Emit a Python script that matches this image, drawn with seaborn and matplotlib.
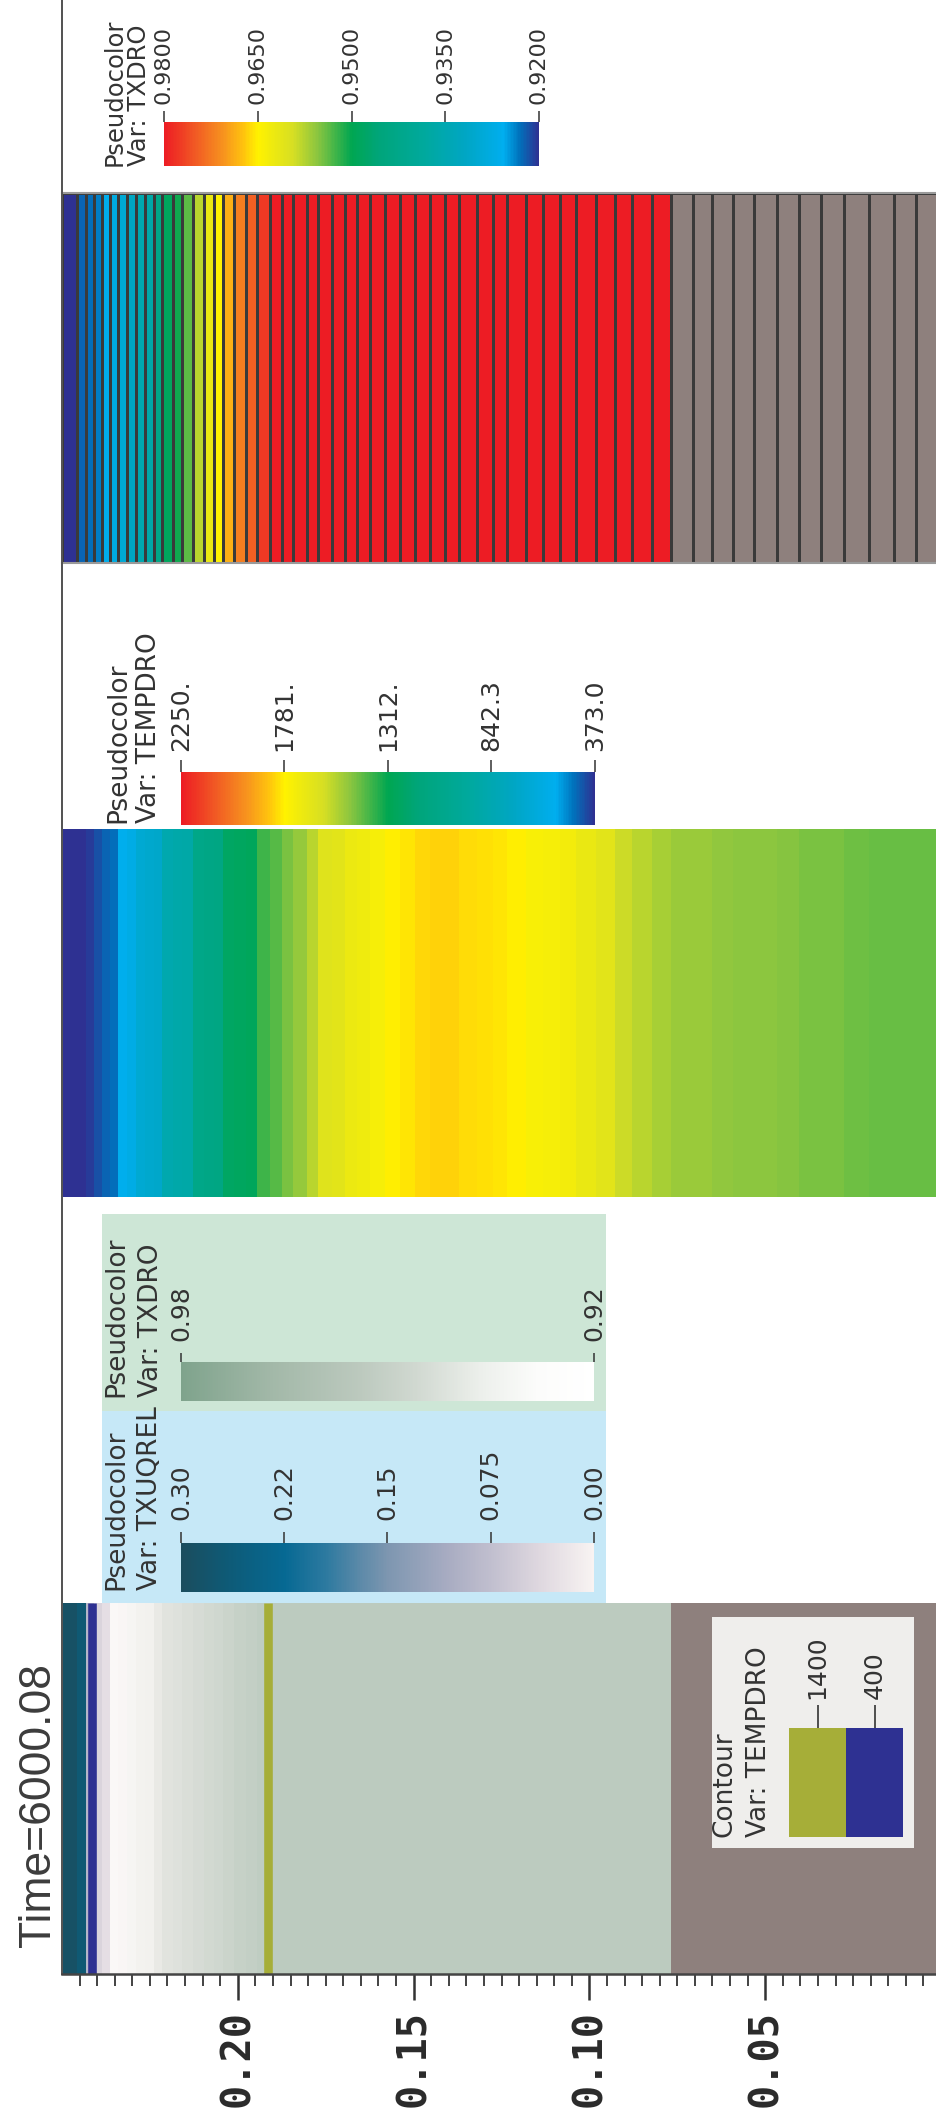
import numpy as np
import matplotlib
matplotlib.use("Agg")
import matplotlib.pyplot as plt
import seaborn as sns
from matplotlib.colors import LinearSegmentedColormap, Normalize, to_rgb
from matplotlib.cm import ScalarMappable
from matplotlib.patches import Rectangle
from matplotlib.ticker import FixedLocator

# ---------------- data ----------------
# radial mesh edges (fuel cells 0.25 -> 0.0769, then cladding cells -> 0.0)
radius_edges = [0.2500, 0.2458, 0.2433, 0.2409, 0.2387, 0.2364, 0.2340, 0.2316, 0.2290, 0.2264,
                0.2239, 0.2215, 0.2184, 0.2158, 0.2127, 0.2096, 0.2067, 0.2041, 0.2010, 0.1978,
                0.1946, 0.1909, 0.1875, 0.1842, 0.1804, 0.1771, 0.1733, 0.1695, 0.1662, 0.1624,
                0.1582, 0.1539, 0.1496, 0.1454, 0.1411, 0.1370, 0.1321, 0.1274, 0.1234, 0.1179,
                0.1131, 0.1084, 0.1037, 0.0980, 0.0926, 0.0878, 0.0823, 0.0769,
                0.0705, 0.0650, 0.0593, 0.0532, 0.0466, 0.0404, 0.0340, 0.0277, 0.0205, 0.0134,
                0.0070, 0.0000]

nan = float("nan")
# TXDRO per cell (cladding cells have no value -> grey)
txdro = [0.9200, 0.9224, 0.9230, 0.9236, 0.9260, 0.9278, 0.9296, 0.9320, 0.9356, 0.9368,
         0.9428, 0.9488, 0.9506, 0.9536, 0.9578, 0.9620, 0.9650, 0.9686, 0.9722, 0.9746,
         0.9776, 0.9800, 0.9800, 0.9800, 0.9800, 0.9800, 0.9800, 0.9800, 0.9800, 0.9800,
         0.9800, 0.9800, 0.9800, 0.9800, 0.9800, 0.9800, 0.9800, 0.9800, 0.9800, 0.9800,
         0.9800, 0.9800, 0.9800, 0.9800, 0.9800, 0.9800, 0.9800,
         nan, nan, nan, nan, nan, nan, nan, nan, nan, nan, nan, nan]

# TEMPDRO per cell
tempdro = [373, 378, 392, 420, 448, 465, 561, 600, 680, 700,
           715, 860, 880, 900, 1080, 1100, 1120, 1250, 1265, 1280,
           1390, 1415, 1462, 1499, 1556, 1640, 1655, 1700, 1712, 1743,
           1781, 1800, 1822, 1828, 1826, 1815, 1805, 1800, 1781, 1750,
           1740, 1724, 1687, 1649, 1584, 1556, 1527,
           1509, 1505, 1490, 1486, 1484, 1480, 1465, 1460, 1446, 1443, 1442, 1440]

# TXUQREL per cell (zero outside the centre)
txuqrel = [0.29, 0.27, 0.09, 0.045, 0.03] + [0.0] * 54

# contour levels of TEMPDRO
contour_levels = [1400, 400]
contour_colors = ["#A6AE38", "#2E3192"]

# axis ticks
major_ticks = [0.20, 0.15, 0.10, 0.05]
major_labels = ["0.20", "0.15", "0.10", "0.05"]

# colour bar ticks / labels
txdro_ticks = [0.98, 0.965, 0.95, 0.935, 0.92]
txdro_labels = ["0.9800", "0.9650", "0.9500", "0.9350", "0.9200"]
temp_ticks = [2250, 1780.75, 1311.5, 842.25, 373]
temp_labels = ["2250.", "1781.", "1312.", "842.3", "373.0"]
uq_ticks = [0.30, 0.225, 0.15, 0.075, 0.0]
uq_labels = ["0.30", "0.22", "0.15", "0.075", "0.00"]
dro2_ticks = [0.98, 0.92]
dro2_labels = ["0.98", "0.92"]

time_label = "Time=6000.08"

# ---------------- style ----------------
sns.set_theme(style="white")
plt.rcParams["font.family"] = ["DejaVu Sans"]

W, H, DPI = 937, 2112, 100
fig = plt.figure(figsize=(W / DPI, H / DPI), dpi=DPI)
fig.patch.set_facecolor("white")


def frac(x0, y0, x1, y1):
    return [x0 / W, 1 - y1 / H, (x1 - x0) / W, (y1 - y0) / H]


def pt(px):
    return px * 72.0 / DPI


TXT = "#333333"

rainbow_stops = [(0.0, "#2E3192"), (0.05, "#0072BC"), (0.093, "#00AEEF"), (0.195, "#00A6C4"),
                 (0.306, "#00A99D"), (0.426, "#00A57A"), (0.5, "#00A651"), (0.593, "#8DC63F"),
                 (0.657, "#D7DF23"), (0.75, "#FFF200"), (0.79, "#FFC20E"), (0.843, "#F7931E"),
                 (0.917, "#F15A24"), (1.0, "#ED1C24")]
cmap_rainbow = LinearSegmentedColormap.from_list("visit_rainbow", rainbow_stops)
cmap_rainbow_a = cmap_rainbow.copy()
cmap_rainbow_a.set_bad("#8E807D")

uq_stops = [(0.0, "#F8F3F2"), (0.138, "#DDD6DE"), (0.252, "#C0BECE"), (0.353, "#A8ACC2"),
            (0.5, "#7D96B0"), (0.57, "#5A89A8"), (0.647, "#2E7AA0"), (0.75, "#066993"),
            (0.89, "#0E5A76"), (1.0, "#1B4D5E")]
cmap_uq = LinearSegmentedColormap.from_list("uq", uq_stops)

gray_stops = [(0.0, "#FFFFFF"), (0.133, "#FCFCFB"), (0.267, "#EDF0EC"), (0.433, "#D0D8D0"),
              (0.567, "#BCC9BE"), (0.783, "#A2B8A8"), (1.0, "#7FA38C")]
cmap_gray = LinearSegmentedColormap.from_list("dro_gray", gray_stops)
warm = np.array(to_rgb("#F8F3F2"))
cmap_gray_strip = LinearSegmentedColormap.from_list(
    "dro_gray_strip", [(p, tuple(0.5 * np.array(to_rgb(c)) + 0.5 * warm)) for p, c in gray_stops])
cmap_gray_strip.set_bad("#8E807D")

xe = np.array(radius_edges)
ye = np.array([0.0, 1.0])
xc = 0.5 * (xe[:-1] + xe[1:])
XLIM = (0.25, 0.0)


def strip_axes(rect):
    ax = fig.add_axes(frac(*rect), zorder=0)
    ax.set_xlim(*XLIM)
    ax.set_ylim(0, 1)
    ax.set_xticks([])
    ax.set_yticks([])
    for s in ax.spines.values():
        s.set_visible(False)
    return ax


# ---- strip A: TXDRO mesh ----
axA = strip_axes((62, 193, 941, 563))
axA.pcolormesh(xe, ye, np.ma.masked_invalid(np.array(txdro))[None, :], cmap=cmap_rainbow_a,
               norm=Normalize(0.92, 0.98), edgecolors="#3a3a3a", linewidth=1.0)
for k in ("top", "bottom"):
    axA.spines[k].set_visible(True)
    axA.spines[k].set_color("#9a9a9a")
    axA.spines[k].set_linewidth(1.5)

# ---- strip B: TEMPDRO ----
axB = strip_axes((62, 829, 941, 1197))
axB.pcolormesh(xe, ye, np.array(tempdro, dtype=float)[None, :], cmap=cmap_rainbow,
               norm=Normalize(373, 2250), linewidth=0, antialiased=False)

# ---- strip C: TXDRO (grey) + TXUQREL + contours ----
axC = strip_axes((62, 1603, 941, 1974))
axC.set_facecolor("#F8F3F2")
axC.pcolormesh(xe, ye, np.ma.masked_invalid(np.array(txdro))[None, :], cmap=cmap_gray_strip,
               norm=Normalize(0.92, 0.98), linewidth=0, antialiased=False)
uq = np.ma.masked_less_equal(np.array(txuqrel), 0.0)
axC.pcolormesh(xe, ye, uq[None, :], cmap=cmap_uq, norm=Normalize(0.0, 0.30),
               linewidth=0, antialiased=False)
Z = np.vstack([tempdro, tempdro]).astype(float)
lev_sorted = sorted(zip(contour_levels, contour_colors))
axC.contour(xc, [0.0, 1.0], Z, levels=[l for l, _ in lev_sorted],
            colors=[c for _, c in lev_sorted], linewidths=6.2)

# ---- frame with axis ----
frame = fig.add_axes(frac(62, 0, 941, 1974), zorder=5)
frame.patch.set_alpha(0)
frame.set_xlim(*XLIM)
frame.set_ylim(0, 1)
frame.set_yticks([])
frame.spines["top"].set_visible(False)
frame.spines["right"].set_visible(False)
frame.spines["left"].set_color("#555555")
frame.spines["left"].set_linewidth(pt(2))
frame.spines["bottom"].set_color("#444444")
frame.spines["bottom"].set_linewidth(pt(2.5))
frame.set_xticks(major_ticks, labels=major_labels)
frame.xaxis.set_minor_locator(FixedLocator([round(0.005 * k, 3) for k in range(1, 50) if k % 10]))
frame.tick_params(axis="x", which="major", bottom=True, top=False, direction="out",
                  length=pt(26), width=pt(2.5), color="#333333", pad=pt(10),
                  labelsize=29, labelrotation=90, labelcolor="#2a2a2a")
frame.tick_params(axis="x", which="minor", bottom=True, top=False, direction="out",
                  length=pt(12), width=pt(1.8), color="#333333")
for lbl in frame.get_xticklabels():
    lbl.set_fontfamily("DejaVu Sans Mono")
    lbl.set_fontweight("bold")

# ---- background boxes ----
def box(x0, y0, x1, y1, color, z):
    fig.add_artist(Rectangle((x0 / W, 1 - y1 / H), (x1 - x0) / W, (y1 - y0) / H,
                             transform=fig.transFigure, facecolor=color, edgecolor="none", zorder=z))


box(102.5, 1214, 606, 1411, "#CDE6D6", -1)
box(102.5, 1411, 606, 1604, "#C6E8F7", -1)
box(711.7, 1617, 914, 1848, "#EFEEEC", 2)


# ---- colour bars ----
def hbar(rect, cmap, vmin, vmax, ticks, labels, tick_len, pad, fs):
    cax = fig.add_axes(frac(*rect), zorder=1)
    sm = ScalarMappable(norm=Normalize(vmin, vmax), cmap=cmap)
    cb = fig.colorbar(sm, cax=cax, orientation="horizontal")
    cb.outline.set_visible(False)
    cb.set_ticks(ticks, labels=labels)
    cax.minorticks_off()
    cax.invert_xaxis()
    cax.xaxis.set_ticks_position("top")
    cax.tick_params(axis="x", which="major", top=True, bottom=False, labeltop=True,
                    labelbottom=False, direction="out", length=pt(tick_len), width=1.1,
                    color="#333333", pad=pt(pad), labelsize=fs, labelrotation=90,
                    labelcolor=TXT)
    return cb


hbar((164, 122, 539, 166), cmap_rainbow, 0.92, 0.98, txdro_ticks, txdro_labels, 11, 7, 16)
hbar((181, 772, 595, 825), cmap_rainbow, 373, 2250, temp_ticks, temp_labels, 12, 9, 18)
hbar((181, 1543, 594, 1592), cmap_uq, 0.0, 0.30, uq_ticks, uq_labels, 11, 12, 18)
hbar((181, 1362, 594, 1401), cmap_gray, 0.92, 0.98, dro2_ticks, dro2_labels, 9, 12, 18)

# ---- contour legend swatches ----
legax = fig.add_axes(frac(789, 1728, 903, 1837), zorder=3)
legax.bar(range(len(contour_levels)), [1] * len(contour_levels), width=1.0,
          color=contour_colors, edgecolor="none")
legax.set_xlim(-0.5, len(contour_levels) - 0.5)
legax.set_ylim(0, 1)
legax.set_yticks([])
for s in legax.spines.values():
    s.set_visible(False)
legax.set_xticks(range(len(contour_levels)), labels=[str(v) for v in contour_levels])
legax.xaxis.set_ticks_position("top")
legax.tick_params(axis="x", top=True, bottom=False, labeltop=True, labelbottom=False,
                  direction="out", length=pt(23), width=1.2, color="#333333", pad=pt(6),
                  labelsize=18, labelrotation=90, labelcolor=TXT)


# ---- rotated titles ----
def vtext(s, xb, yb, size, family=None, color=TXT):
    kw = dict(rotation=90, rotation_mode="anchor", ha="left", va="baseline",
              fontsize=size, color=color, zorder=10)
    if family:
        kw["family"] = family
    fig.text(xb / W, 1 - yb / H, s, **kw)


vtext("Pseudocolor", 122, 166, 17.5)
vtext("Var: TXDRO", 146, 166, 17.5)
vtext("Pseudocolor", 125.5, 823, 19)
vtext("Var: TEMPDRO", 156, 823, 19)
vtext("Pseudocolor", 123, 1590, 19)
vtext("Var: TXUQREL", 157, 1590, 19)
vtext("Pseudocolor", 123, 1397, 19)
vtext("Var: TXDRO", 158, 1397, 19)
vtext("Contour", 731.5, 1837, 19)
vtext("Var: TEMPDRO", 766.5, 1837, 19)
vtext(time_label, 50, 1947, 32, family=["Liberation Sans", "DejaVu Sans"], color="#3c3c3c")

fig.savefig("out.png", dpi=DPI)
